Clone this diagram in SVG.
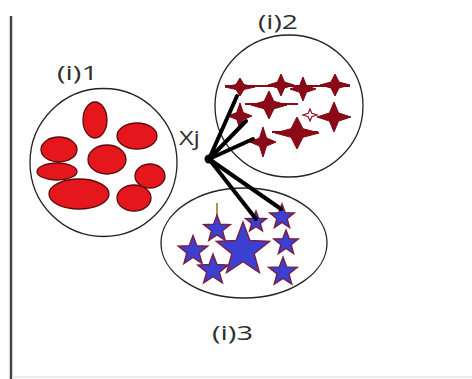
<svg xmlns="http://www.w3.org/2000/svg" width="472" height="379" viewBox="0 0 472 379">
<style>
.cl{fill:none;stroke:#222;stroke-width:1.3}
.lbl{font-family:"Open Sans","Liberation Sans",sans-serif;font-size:20px;fill:#2e2e2e}
.red{fill:#e5161c;stroke:#5a0a0c;stroke-width:1.3}
.dr{fill:#8c0a18;stroke:#7a0812;stroke-width:1}
.bl{fill:#3b40d2;stroke:#7a1e40;stroke-width:1.4}
.con{stroke:#000;stroke-width:4;stroke-linecap:round;fill:none}
</style>
<defs>
<path id="s5" vector-effect="non-scaling-stroke" d="M0,-1 L0.247,-0.34 L0.951,-0.309 L0.399,0.13 L0.588,0.809 L0,0.42 L-0.588,0.809 L-0.399,0.13 L-0.951,-0.309 L-0.247,-0.34 Z"/>
<path id="s4" vector-effect="non-scaling-stroke" d="M0,-1 L0.27,-0.27 L1,0 L0.27,0.27 L0,1 L-0.27,0.27 L-1,0 L-0.27,-0.27 Z"/>
</defs>
<rect width="472" height="379" fill="#fff"/>
<line x1="11" y1="16" x2="11" y2="379" stroke="#444" stroke-width="2.5"/>
<line x1="12" y1="377" x2="472" y2="377" stroke="#e4e4e4" stroke-width="1.5"/>

<g id="cluster1">
<ellipse class="cl" cx="103.5" cy="162.5" rx="73.5" ry="74"/>
<text class="lbl" x="57" y="80" textLength="41" lengthAdjust="spacingAndGlyphs">(i)1</text>
<ellipse class="red" cx="95" cy="120" rx="12" ry="18"/>
<ellipse class="red" cx="137" cy="136" rx="20" ry="13"/>
<ellipse class="red" cx="59" cy="149.5" rx="18" ry="12.5"/>
<ellipse class="red" cx="107" cy="159.5" rx="19" ry="14.5"/>
<ellipse class="red" cx="57" cy="171.5" rx="20" ry="8.5"/>
<ellipse class="red" cx="150" cy="176" rx="15" ry="12"/>
<ellipse class="red" cx="79" cy="194" rx="30" ry="15"/>
<ellipse class="red" cx="134" cy="198" rx="17" ry="13"/>
</g>

<g id="cluster2">
<ellipse class="cl" cx="289" cy="106" rx="74" ry="71"/>
<text class="lbl" x="258" y="29" textLength="40" lengthAdjust="spacingAndGlyphs">(i)2</text>
<line x1="225" y1="86" x2="350" y2="86" stroke="#8c0a18" stroke-width="2"/>
<line x1="245" y1="104" x2="298" y2="104" stroke="#8c0a18" stroke-width="2"/>
<line x1="272" y1="132" x2="318" y2="132" stroke="#8c0a18" stroke-width="2"/>
<use href="#s4" class="dr" transform="translate(240,87) scale(15,9)"/>
<use href="#s4" class="dr" transform="translate(281,85) scale(13,11)"/>
<use href="#s4" class="dr" transform="translate(303,89) scale(13,12)"/>
<use href="#s4" class="dr" transform="translate(335,85) scale(15,11)"/>
<use href="#s4" class="dr" transform="translate(269,105) scale(18,14)"/>
<use href="#s4" class="dr" transform="translate(240,116) scale(12,13)"/>
<use href="#s4" class="dr" transform="translate(334,117) scale(17,15)"/>
<use href="#s4" class="dr" transform="translate(297,133) scale(22,16)"/>
<use href="#s4" class="dr" transform="translate(263,142) scale(13,15)"/>
<use href="#s4" fill="#fff" stroke="#8c0a18" stroke-width="1.2" transform="translate(310,115) scale(7,6)"/>
</g>

<g id="cluster3">
<ellipse class="cl" cx="244" cy="243" rx="83" ry="55"/>
<text class="lbl" x="212" y="340" font-size="23" textLength="41" lengthAdjust="spacingAndGlyphs">(i)3</text>
<line x1="217" y1="203" x2="217" y2="222" stroke="#b09060" stroke-width="2"/>
<use href="#s5" class="bl" transform="translate(217,229) scale(14)"/>
<use href="#s5" class="bl" transform="translate(256,222) scale(11)"/>
<use href="#s5" class="bl" transform="translate(282,217) scale(13)"/>
<use href="#s5" class="bl" transform="translate(243,250) scale(28)"/>
<use href="#s5" class="bl" transform="translate(193,251) scale(15.5)"/>
<use href="#s5" class="bl" transform="translate(213,270) scale(16)"/>
<use href="#s5" class="bl" transform="translate(286,243) scale(13)"/>
<use href="#s5" class="bl" transform="translate(283,272) scale(15)"/>
</g>

<g id="xj">
<text class="lbl" x="179" y="145" textLength="21" lengthAdjust="spacingAndGlyphs">Xj</text>
<circle cx="209" cy="159" r="4.5" fill="#000"/>
</g>

<g id="connectors">
<path class="con" d="M209,159 L237,96"/>
<path class="con" d="M209,159 L246,121"/>
<path class="con" d="M209,159 L253,139"/>
<path class="con" d="M209,159 L256,219"/>
<path class="con" d="M209,159 L281,209"/>
</g>
</svg>
